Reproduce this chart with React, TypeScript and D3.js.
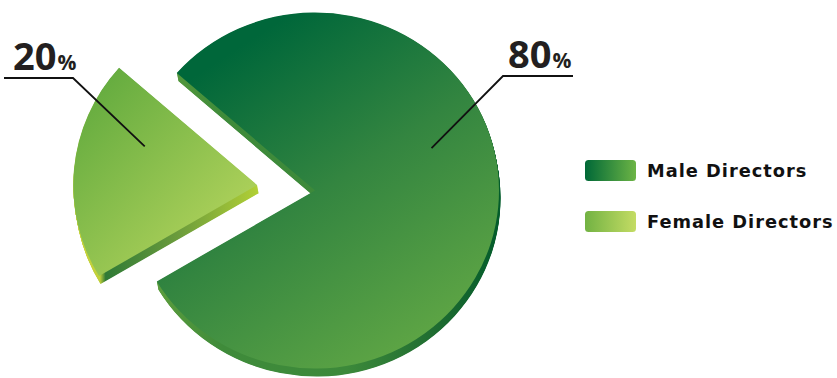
import React from "react";
import * as d3 from "d3";

const categories = ["Male Directors", "Female Directors"];
const values = [80, 20];
const percentLabels = ["80", "20"];

const W = 837;
const H = 378;
const CX = 315;
const CY = 190.5;
const R = 178; // vertical radius
const SX = 184 / 178; // horizontal stretch
const EXPLODE = [0, 58];
const DEPTH = 8;
const DEPTH_DX = 1.5;
const START_DEG = -48.7;

const leaderAngles = [70, 289];
const leaderRadius = [124, 119];
const labelLayout = [
  { elbowX: 503, elbowY: 76, tailX: 573, textX: 508, baseY: 68 },
  { elbowX: 73, elbowY: 78, tailX: 4, textX: 13, baseY: 70 },
];

type Stop = [number, string];
type Grad = { id: string; x1: number; y1: number; x2: number; y2: number; stops: Stop[] };

export default function App() {
  const pie = d3
    .pie<number>()
    .sort(null)
    .startAngle((START_DEG * Math.PI) / 180)
    .endAngle(((START_DEG + 360) * Math.PI) / 180);
  const arcs = pie(values);
  const arc = d3.arc<d3.PieArcDatum<number>>().innerRadius(0).outerRadius(R);

  const centers = arcs.map((a, i) => {
    const mid = (a.startAngle + a.endAngle) / 2;
    return [CX + EXPLODE[i] * Math.sin(mid), CY - EXPLODE[i] * Math.cos(mid)];
  });

  const toLocal = (i: number, X: number, Y: number) => [
    (X - centers[i][0]) / SX,
    Y - centers[i][1],
  ];
  const screenGrads: { slice: number; g: Grad }[] = [
    {
      slice: 0,
      g: {
        id: "maleTop", x1: 250, y1: 40, x2: 460, y2: 340,
        stops: [[0, "#00673a"], [0.45, "#338540"], [1, "#62a845"]],
      },
    },
    {
      slice: 1,
      g: {
        id: "femaleTop", x1: 105, y1: 85, x2: 250, y2: 215,
        stops: [[0, "#67ad40"], [1, "#b0d25b"]],
      },
    },
    {
      slice: 0,
      g: {
        id: "maleSide", x1: 150, y1: 0, x2: 505, y2: 0,
        stops: [[0, "#5e9e3d"], [0.2, "#3f8b3a"], [0.55, "#3c893a"], [0.8, "#1f6c31"], [1, "#005a2a"]],
      },
    },
    {
      slice: 1,
      g: {
        id: "femaleSide", x1: 74, y1: 0, x2: 262, y2: 0,
        stops: [[0, "#c8d43c"], [0.13, "#c0d03a"], [0.16, "#2f7a36"], [0.55, "#6c9c3c"], [1, "#b6d335"]],
      },
    },
  ];

  const steps = d3.range(0.5, DEPTH + 0.01, 0.5);
  const topFill = ["url(#maleTop)", "url(#femaleTop)"];
  const sideFill = ["url(#maleSide)", "url(#femaleSide)"];
  const swatchFill = ["url(#maleSw)", "url(#femaleSw)"];

  return (
    <svg
      width={W}
      height={H}
      style={{ position: "absolute", left: 0, top: 0, background: "#fff" }}
    >
      <defs>
        {screenGrads.map(({ slice, g }) => {
          const [x1, y1] = toLocal(slice, g.x1, g.y1);
          const [x2, y2] = toLocal(slice, g.x2, g.y2);
          return (
            <linearGradient key={g.id} id={g.id} gradientUnits="userSpaceOnUse" x1={x1} y1={y1} x2={x2} y2={y2}>
              {g.stops.map(([o, c]) => (
                <stop key={o} offset={o} stopColor={c} />
              ))}
            </linearGradient>
          );
        })}
        <linearGradient id="maleSw" x1="0" y1="0" x2="1" y2="0">
          <stop offset="0" stopColor="#006837" />
          <stop offset="1" stopColor="#6cb445" />
        </linearGradient>
        <linearGradient id="femaleSw" x1="0" y1="0" x2="1" y2="0">
          <stop offset="0" stopColor="#72b243" />
          <stop offset="1" stopColor="#c4dc64" />
        </linearGradient>
      </defs>

      {arcs.map((a, i) => {
        const [cx, cy] = centers[i];
        const d = arc(a) || "";
        return (
          <g key={categories[i]} transform={`translate(${cx},${cy}) scale(${SX},1)`}>
            {steps.map((s) => (
              <path
                key={s}
                d={d}
                fill={sideFill[i]}
                transform={`translate(${((s / DEPTH) * DEPTH_DX) / SX},${s})`}
              />
            ))}
            <path d={d} fill={topFill[i]} />
          </g>
        );
      })}

      {arcs.map((a, i) => {
        const [cx, cy] = centers[i];
        const ang = (leaderAngles[i] * Math.PI) / 180;
        const ex = cx + leaderRadius[i] * Math.sin(ang);
        const ey = cy - leaderRadius[i] * Math.cos(ang);
        const L = labelLayout[i];
        return (
          <g key={"lbl" + i}>
            <polyline
              points={`${ex},${ey} ${L.elbowX},${L.elbowY} ${L.tailX},${L.elbowY}`}
              fill="none"
              stroke="#111"
              strokeWidth={1.8}
            />
            <text
              x={L.textX}
              y={L.baseY}
              fontFamily="'Open Sans', sans-serif"
              fontWeight={700}
              fill="#231f20"
            >
              <tspan fontSize={38}>{percentLabels[i]}</tspan>
              <tspan fontSize={21} dx={1}>%</tspan>
            </text>
          </g>
        );
      })}

      {categories.map((c, i) => (
        <g key={"leg" + c} transform={`translate(585,${160 + i * 51})`}>
          <rect x={0} y={0} width={51} height={21} rx={3.5} fill={swatchFill[i]} />
          <text
            x={62}
            y={17}
            fontFamily="'DejaVu Sans', Verdana, sans-serif"
            fontWeight={700}
            fontSize={17.8}
            letterSpacing={1}
            fill="#111"
          >
            {c}
          </text>
        </g>
      ))}
    </svg>
  );
}
